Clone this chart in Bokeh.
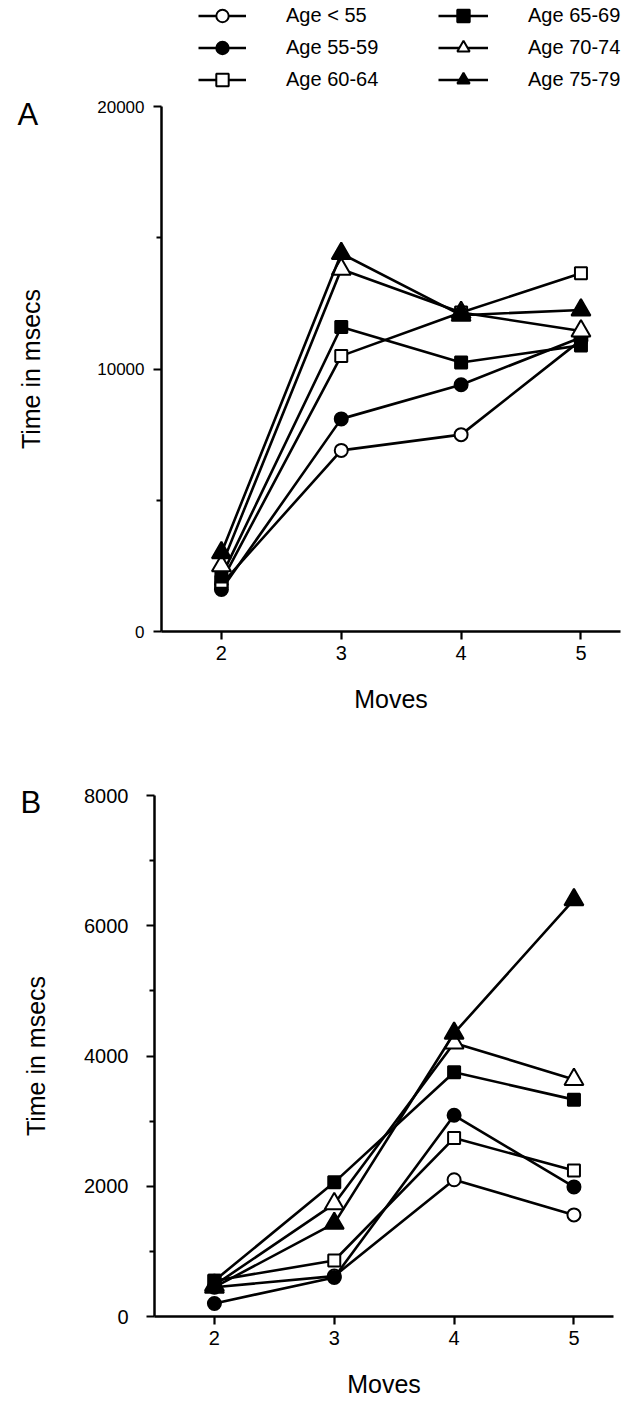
from bokeh.plotting import figure
from bokeh.models import Range1d, FixedTicker, Legend, LegendItem, NumeralTickFormatter
from bokeh.layouts import column
from bokeh.embed import file_html
from bokeh.resources import INLINE

FONT = "Liberation Sans"
NAN = float("nan")

# ---- data ----
moves = [2, 3, 4, 5]
groups = ["Age < 55", "Age 55-59", "Age 60-64", "Age 65-69", "Age 70-74", "Age 75-79"]

# Panel A (time in msecs)
a_lt55 = [1800, 6900, 7500, 11100]
a_55_59 = [1600, 8100, 9400, 11200]
a_60_64 = [1900, 10500, 12150, 13650]
a_65_69 = [2100, 11600, 10250, 10900]
a_70_74 = [2500, 13800, 12150, 11450]
a_75_79 = [3000, 14400, 12050, 12250]

# Panel B (time in msecs)
b_lt55 = [450, 620, 2100, 1560]
b_55_59 = [200, 600, 3090, 1990]
b_60_64 = [550, 860, 2740, 2240]
b_65_69 = [550, 2060, 3750, 3330]
b_70_74 = [480, 1730, 4200, 3640]
b_75_79 = [450, 1430, 4350, 6400]

a_ticks = [0, 10000, 20000]
a_minor = [5000, 15000]
b_ticks = [0, 2000, 4000, 6000, 8000]
b_minor = [1000, 3000, 5000, 7000]

# ---- styles ----
marker_kind = ["circle", "circle", "square", "square", "triangle", "triangle"]
marker_fill = ["white", "black", "white", "black", "white", "black"]
marker_size = [13, 13, 12, 12, 19, 19]


def style_common(p):
    p.outline_line_color = None
    p.background_fill_color = "white"
    p.border_fill_color = "white"
    p.frame_align = False


def make_panel(series, ymax, ticks, minor, border_left, border_right, border_top,
               frame_h, border_bottom, letter, letter_dx, letter_standoff,
               ylab_standoff, ytick_size, ytick_standoff):
    p = figure(frame_width=459, frame_height=frame_h,
               min_border_left=border_left, min_border_right=border_right,
               min_border_top=border_top, min_border_bottom=border_bottom,
               x_range=Range1d(1.5, 5.33), y_range=Range1d(0, ymax),
               output_backend="svg", toolbar_location=None, title=letter)
    style_common(p)
    p.xgrid.visible = False
    p.ygrid.visible = False

    p.title.text_font = FONT
    p.title.text_font_size = "31px"
    p.title.text_font_style = "normal"
    p.title.text_color = "black"
    p.title.align = "left"
    p.title.vertical_align = "bottom"
    p.title.offset = letter_dx
    p.title.standoff = letter_standoff

    for i, vals in enumerate(series):
        p.line(moves, vals, line_color="black", line_width=2.6)
        p.scatter(moves, vals, marker=marker_kind[i], size=marker_size[i],
                  fill_color=marker_fill[i], line_color="black", line_width=2)

    for ax in (p.xaxis[0], p.yaxis[0]):
        ax.axis_line_width = 2.5
        ax.axis_line_color = "black"
        ax.major_tick_line_width = 2.2
        ax.minor_tick_line_width = 2
        ax.major_tick_in = 0
        ax.major_tick_out = 8
        ax.minor_tick_in = 0
        ax.minor_tick_out = 5
        ax.major_label_text_font = FONT
        ax.major_label_text_font_size = "20px"
        ax.major_label_text_color = "black"
        ax.axis_label_text_font = FONT
        ax.axis_label_text_font_size = "25px"
        ax.axis_label_text_font_style = "normal"
        ax.axis_label_text_color = "black"

    p.xaxis.ticker = FixedTicker(ticks=moves)
    p.xaxis.major_label_standoff = 6
    p.xaxis.axis_label = "Moves"
    p.xaxis.axis_label_standoff = 22
    p.yaxis.ticker = FixedTicker(ticks=ticks, minor_ticks=minor)
    p.yaxis.formatter = NumeralTickFormatter(format="0")
    p.yaxis.major_label_standoff = ytick_standoff
    p.yaxis.major_label_text_font_size = ytick_size
    p.yaxis.axis_label = "Time in msecs"
    p.yaxis.axis_label_standoff = ylab_standoff
    return p


pA = make_panel([a_lt55, a_55_59, a_60_64, a_65_69, a_70_74, a_75_79],
                20000, a_ticks, a_minor, 161, 16, 12, 525, 99,
                "A", -144, -50, 49, "17px", 9)
pB = make_panel([b_lt55, b_55_59, b_60_64, b_65_69, b_70_74, b_75_79],
                8000, b_ticks, b_minor, 154, 23, 65, 521, 93,
                "B", -134, -48, 31, "20px", 18)

# ---- legend strip above panel A ----
pL = figure(width=636, height=94, x_range=Range1d(0, 1), y_range=Range1d(0, 1),
            min_border_left=0, min_border_right=0, min_border_top=0, min_border_bottom=0,
            x_axis_location=None, y_axis_location=None,
            output_backend="svg", toolbar_location=None)
style_common(pL)
pL.xgrid.visible = False
pL.ygrid.visible = False

items = []
for i in range(6):
    lr = pL.line([NAN], [NAN], line_color="black", line_width=2.6)
    sr = pL.scatter([NAN], [NAN], marker=marker_kind[i], size=marker_size[i],
                    fill_color=marker_fill[i], line_color="black", line_width=2)
    items.append(LegendItem(label=groups[i], renderers=[lr, sr]))


def make_legend(its, x, gw):
    return Legend(items=its, location=(x, -1), glyph_width=gw, glyph_height=31,
                  label_height=31, spacing=1, padding=0, margin=0, label_standoff=40,
                  border_line_color=None, background_fill_alpha=0,
                  label_text_font=FONT, label_text_font_size="20px",
                  label_text_color="black")


pL.add_layout(make_legend(items[:3], 198, 48))
pL.add_layout(make_legend(items[3:], 438, 50))

layout = column(pL, pA, pB, spacing=0)
open("out.html", "w").write(file_html(layout, INLINE))
